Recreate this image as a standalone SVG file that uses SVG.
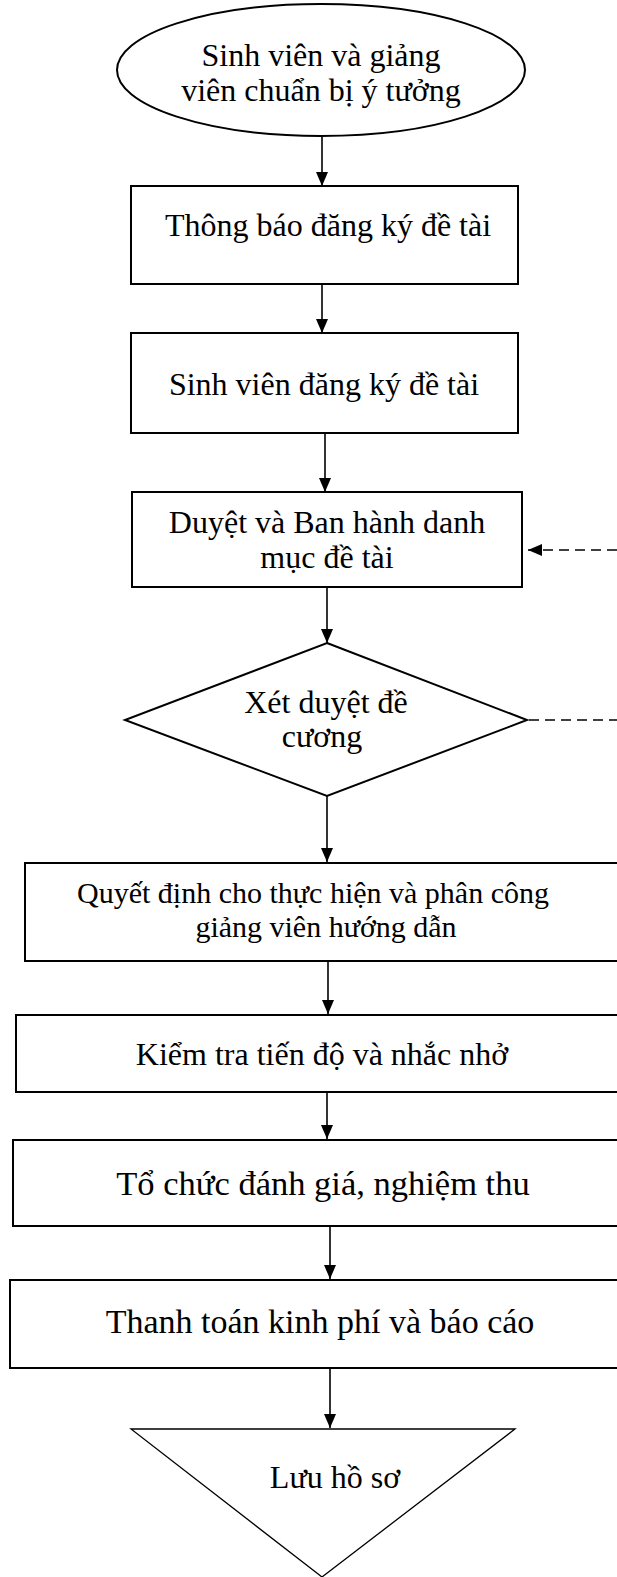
<svg xmlns="http://www.w3.org/2000/svg" width="617" height="1577" viewBox="0 0 617 1577">
<defs>
<style>
.n{fill:#fff;stroke:#000;stroke-width:2}
.t{font-family:"Liberation Serif","Times New Roman",serif;font-size:32px;fill:#000;text-anchor:middle}
.c{stroke:#000;stroke-width:1.6;fill:none}
.d{stroke:#000;stroke-width:1.6;fill:none;stroke-dasharray:10 6}
</style>
<marker id="ah" markerWidth="14" markerHeight="12" refX="14" refY="6" orient="auto" markerUnits="userSpaceOnUse">
<path d="M0,0 L14,6 L0,12 Z" fill="#000"/>
</marker>
</defs>
<rect width="617" height="1577" fill="#fff"/>
<g id="n1"><ellipse class="n" cx="321" cy="70" rx="204" ry="66"/>
<text class="t" x="321" y="66">Sinh viên và giảng</text>
<text class="t" x="321" y="101">viên chuẩn bị ý tưởng</text></g>
<g id="n2"><rect class="n" x="131" y="186" width="387" height="98"/>
<text class="t" x="328" y="236">Thông báo đăng ký đề tài</text></g>
<g id="n3"><rect class="n" x="131" y="333" width="387" height="100"/>
<text class="t" x="324" y="395">Sinh viên đăng ký đề tài</text></g>
<g id="n4"><rect class="n" x="132" y="492" width="390" height="95"/>
<text class="t" x="327" y="533">Duyệt và Ban hành danh</text>
<text class="t" x="327" y="568">mục đề tài</text></g>
<g id="n5"><polygon class="n" points="327,643 527,720 327,796 125,720"/>
<text class="t" x="326" y="713">Xét duyệt đề</text>
<text class="t" x="322" y="747">cương</text></g>
<g id="n6"><rect class="n" x="25" y="863" width="600" height="98"/>
<text class="t" x="313" y="903" style="font-size:30px">Quyết định cho thực hiện và phân công</text>
<text class="t" x="326" y="937" style="font-size:30px">giảng viên hướng dẫn</text></g>
<g id="n7"><rect class="n" x="16" y="1015" width="610" height="77"/>
<text class="t" x="322" y="1065">Kiểm tra tiến độ và nhắc nhở</text></g>
<g id="n8"><rect class="n" x="13" y="1140" width="615" height="86"/>
<text class="t" x="323" y="1195" style="font-size:34.5px">Tổ chức đánh giá, nghiệm thu</text></g>
<g id="n9"><rect class="n" x="10" y="1280" width="620" height="88"/>
<text class="t" x="320" y="1333" style="font-size:34px">Thanh toán kinh phí và báo cáo</text></g>
<g id="n10"><polygon class="n" style="stroke-width:1.3" points="131,1429 515,1429 322,1577"/>
<text class="t" x="335" y="1488">Lưu hồ sơ</text></g>
<g id="connectors">
<line class="c" x1="322" y1="137" x2="322" y2="186" marker-end="url(#ah)"/>
<line class="c" x1="322" y1="284" x2="322" y2="333" marker-end="url(#ah)"/>
<line class="c" x1="325" y1="433" x2="325" y2="492" marker-end="url(#ah)"/>
<line class="c" x1="327" y1="587" x2="327" y2="643" marker-end="url(#ah)"/>
<line class="c" x1="327" y1="796" x2="327" y2="862" marker-end="url(#ah)"/>
<line class="c" x1="328" y1="961" x2="328" y2="1014" marker-end="url(#ah)"/>
<line class="c" x1="327" y1="1092" x2="327" y2="1139" marker-end="url(#ah)"/>
<line class="c" x1="330" y1="1226" x2="330" y2="1279" marker-end="url(#ah)"/>
<line class="c" x1="330" y1="1368" x2="330" y2="1428" marker-end="url(#ah)"/>
<line class="d" x1="617" y1="550" x2="528" y2="550" marker-end="url(#ah)"/>
<line class="d" x1="529" y1="720" x2="617" y2="720"/>
</g>
</svg>
